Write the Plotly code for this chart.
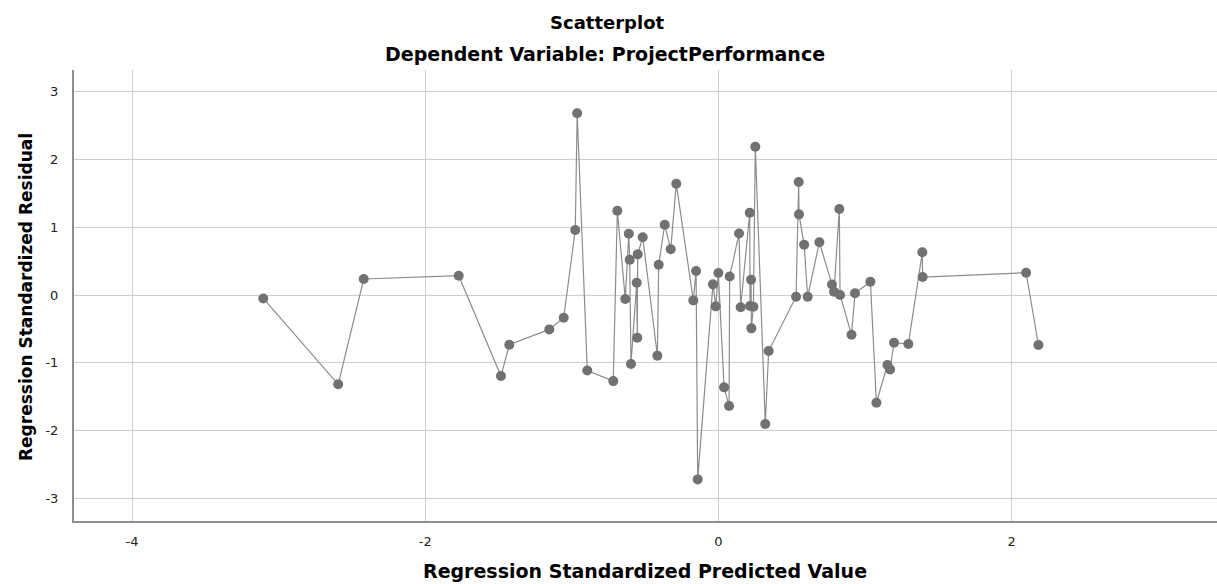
import plotly.graph_objects as go

# Regression standardized predicted values (x) and residuals (y), in x order
predicted = [
    -3.105, -2.594, -2.420, -1.772, -1.484, -1.427, -1.154, -1.056,
    -0.977, -0.964, -0.895, -0.718, -0.690, -0.636, -0.612, -0.606,
    -0.597, -0.558, -0.554, -0.551, -0.517, -0.417, -0.408, -0.367,
    -0.326, -0.288, -0.172, -0.153, -0.142, -0.038, -0.019, -0.001,
    0.038, 0.072, 0.076, 0.140, 0.151, 0.213, 0.215, 0.222,
    0.224, 0.238, 0.251, 0.319, 0.342, 0.529, 0.547, 0.549,
    0.584, 0.608, 0.688, 0.774, 0.788, 0.824, 0.829, 0.907,
    0.931, 1.036, 1.077, 1.152, 1.170, 1.197, 1.295, 1.390,
    1.392, 2.098, 2.182,
]
residual = [
    -0.050, -1.315, 0.236, 0.285, -1.193, -0.732, -0.506, -0.334,
    0.957, 2.676, -1.112, -1.268, 1.242, -0.059, 0.903, 0.520,
    -1.016, 0.181, -0.629, 0.599, 0.850, -0.893, 0.447, 1.036,
    0.673, 1.640, -0.079, 0.353, -2.715, 0.157, -0.167, 0.324,
    -1.360, -1.635, 0.273, 0.905, -0.180, 1.212, -0.162, 0.226,
    -0.491, -0.172, 2.184, -1.900, -0.825, -0.025, 1.664, 1.188,
    0.740, -0.025, 0.778, 0.155, 0.049, 1.266, 0.000, -0.584,
    0.025, 0.196, -1.586, -1.031, -1.095, -0.702, -0.722, 0.629,
    0.265, 0.329, -0.736,
]

x_ticks = [-4, -2, 0, 2]
y_ticks = [-3, -2, -1, 0, 1, 2, 3]

title_text = "Scatterplot"
subtitle_text = "Dependent Variable: ProjectPerformance"
x_title = "Regression Standardized Predicted Value"
y_title = "Regression Standardized Residual"

W, H = 1217, 584
L, R, T, B = 74, 0, 70, 63
pw, ph = W - L - R, H - T - B

def px_to_paper_x(px):
    return (px - L) / pw

def py_to_paper_y(py):
    return (H - B - py) / ph

fig = go.Figure()
fig.add_trace(go.Scatter(
    x=predicted, y=residual, mode="lines+markers",
    line=dict(color="#8c8c8c", width=1.2),
    marker=dict(color="#717171", size=10, line=dict(width=0)),
    showlegend=False, hoverinfo="skip",
))

title_font = dict(family="DejaVu Sans", size=18, color="#000000", weight="bold")
tick_font = dict(family="DejaVu Sans", size=13, color="#222222")

fig.update_layout(
    width=W, height=H,
    margin=dict(l=L, r=R, t=T, b=B),
    paper_bgcolor="white", plot_bgcolor="white",
    xaxis=dict(
        range=[-4.396, 3.40], tickvals=x_ticks, ticktext=[str(v) for v in x_ticks],
        showgrid=True, gridcolor="#cfcfcf", gridwidth=1.3,
        zeroline=False, showline=True, linecolor="#8f8f8f", linewidth=2,
        ticks="", tickfont=tick_font, ticklabelstandoff=7,
    ),
    yaxis=dict(
        range=[-3.328, 3.314], tickvals=y_ticks, ticktext=[str(v) for v in y_ticks],
        showgrid=True, gridcolor="#cfcfcf", gridwidth=1.3,
        zeroline=False, showline=True, linecolor="#8f8f8f", linewidth=2,
        ticks="", tickfont=tick_font, ticklabelstandoff=11,
    ),
    annotations=[
        dict(text=title_text, xref="paper", yref="paper",
             x=px_to_paper_x(607), y=py_to_paper_y(23), xanchor="center", yanchor="middle",
             showarrow=False, font=dict(title_font, size=18)),
        dict(text=subtitle_text, xref="paper", yref="paper",
             x=px_to_paper_x(605), y=py_to_paper_y(54), xanchor="center", yanchor="middle",
             showarrow=False, font=dict(title_font, size=19)),
        dict(text=x_title, xref="paper", yref="paper",
             x=px_to_paper_x(645), y=py_to_paper_y(571), xanchor="center", yanchor="middle",
             showarrow=False, font=dict(title_font, size=19)),
        dict(text=y_title, xref="paper", yref="paper", textangle=-90,
             x=px_to_paper_x(26), y=py_to_paper_y(297), xanchor="center", yanchor="middle",
             showarrow=False, font=dict(title_font, size=17)),
    ],
)

fig.write_html(
    "out.html",
    config={"displayModeBar": False},
    post_script="document.body.style.margin='0';document.body.style.overflow='hidden';",
)
